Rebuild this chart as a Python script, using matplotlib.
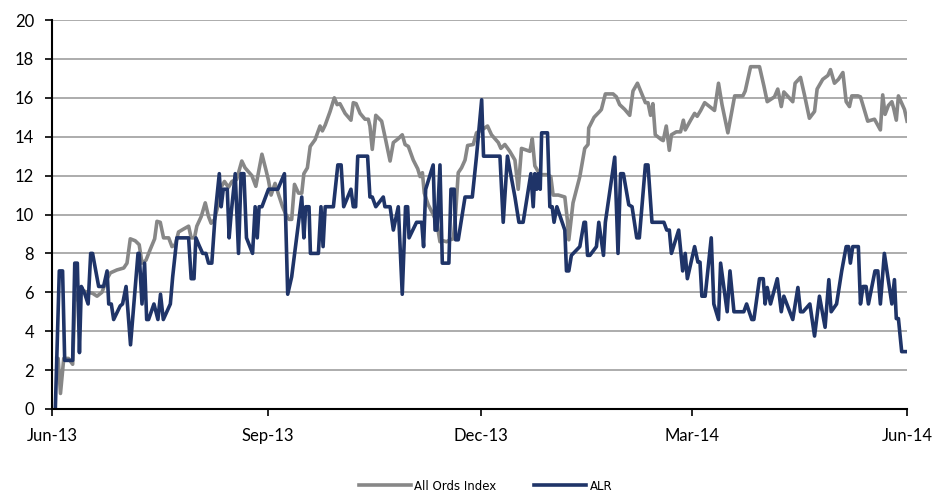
import numpy as np
import pandas as pd
import matplotlib
matplotlib.use('Agg')
import matplotlib.pyplot as plt
import matplotlib.dates as mdates

# days since 1-Jun-2013
alr_day = [1.4, 3.1, 4.5, 5.4, 7.1, 8.8, 9.7, 10.8, 11.7, 12.5,
           13.9, 15.4, 16.5, 17.3, 19.9, 22.0, 23.5, 24.2, 25.3, 26.3,
           29.1, 30.1, 31.6, 33.5, 36.7, 37.2, 38.4, 39.5, 40.4, 41.2,
           43.5, 45.2, 46.3, 47.5, 50.5, 51.5, 53.3, 58.3, 59.4, 60.6,
           61.4, 62.8, 64.3, 65.7, 66.8, 68.2, 69.7, 71.4, 72.2, 73.1,
           74.8, 75.6, 76.5, 78.2, 79.6, 80.7, 81.9, 83.0, 85.6, 86.7,
           87.6, 88.4, 89.6, 92.4, 96.4, 99.2, 100.6, 102.3, 106.6, 107.5,
           108.3, 109.7, 110.3, 113.7,
           114.8, 115.7, 116.6, 120.1, 122.0, 123.4, 124.5, 127.6, 128.6, 129.6,
           130.5, 134.7, 135.7, 136.7, 138.2, 141.4, 142.1, 144.3, 145.7, 147.8,
           149.5, 150.9, 151.8, 152.4, 155.6, 157.8, 158.6, 159.5, 162.7, 163.5,
           164.3, 165.6, 166.6, 169.4, 170.3, 171.7, 172.3, 173.4, 176.3, 179.4,
           181.2, 183.4, 184.2, 191.2, 192.6, 194.4, 197.6, 199.3, 201.1, 204.4,
           205.4, 206.1, 206.9, 207.5, 208.4, 209.0, 211.5, 212.5, 213.5, 214.3,
           215.5, 218.9, 219.6, 220.6, 221.7, 225.3, 227.1, 227.7, 228.6, 229.6,
           232.4, 233.4, 235.4,
           236.2, 240.2, 241.6, 242.7, 243.9, 246.2, 247.6, 249.6, 250.7, 253.3,
           254.4, 256.1, 261.2, 262.4, 263.5, 264.4, 267.5, 269.2, 270.3, 271.2,
           274.3, 275.7, 276.6, 277.4, 278.8, 281.4, 282.5, 284.5, 285.4, 288.2,
           289.4, 291.1, 295.3, 296.5, 298.7, 299.6, 302.0, 303.6, 304.4, 305.3,
           306.7, 309.6, 311.3, 312.4, 316.2, 318.4, 319.5, 320.6, 323.5, 325.5,
           327.6, 330.0, 331.6, 332.6, 334.9, 337.1, 339.0, 340.0, 340.8, 341.8,
           344.2, 345.1, 346.2, 347.5, 348.5, 351.3, 352.5, 353.6, 355.3, 358.5,
           359.6, 360.4, 361.3, 362.7, 365.0]
alr_val = [0, 7.1, 7.1, 2.5, 2.5, 2.5, 7.5, 7.5, 2.9, 6.3,
           5.95, 5.4, 8.0, 8.0, 6.3, 6.3, 7.1, 5.4, 5.4, 4.6,
           5.3, 5.4, 6.3, 3.3, 8.0, 8.0, 5.4, 7.5, 4.6, 4.6,
           5.4, 4.6, 5.9, 4.6, 5.4, 6.8, 8.8, 8.8, 6.7, 6.7,
           8.8, 8.4, 8.0, 8.0, 7.5, 7.5, 10.1, 12.1, 10.4, 11.3,
           11.3, 8.8, 10.1, 12.1, 8.0, 12.1, 12.1, 8.8, 8.0, 10.4,
           8.8, 10.4, 10.4, 11.3, 11.3, 12.1, 5.9, 6.8, 10.9, 8.8,
           10.4, 10.4, 8.0, 8.0,
           10.4, 8.35, 10.4, 10.4, 12.55, 12.55, 10.4, 11.3, 10.4, 10.4,
           13.0, 13.0, 10.9, 10.9, 10.4, 10.9, 10.4, 10.4, 9.2, 10.4,
           5.9, 10.4, 10.4, 8.8, 9.6, 9.6, 8.35, 11.3, 12.55, 9.2,
           9.2, 12.55, 7.5, 7.5, 11.3, 11.3, 8.7, 8.7, 10.9, 10.9,
           13.0, 15.9, 13.0, 13.0, 9.6, 13.0, 10.9, 9.6, 9.6, 12.1,
           10.4, 12.1, 11.3, 12.1, 11.3, 14.2, 14.2, 10.4, 10.4, 9.6,
           10.4, 9.2, 7.1, 7.1, 7.9, 8.35, 9.6, 9.6, 7.9, 7.9,
           8.35, 9.6, 7.9,
           9.6, 12.95, 8.0, 12.1, 12.1, 10.5, 10.4, 8.8, 8.8, 12.55,
           12.55, 9.6, 9.6, 9.2, 9.2, 8.0, 9.2, 7.1, 8.0, 6.7,
           8.35, 7.55, 7.55, 5.8, 5.8, 8.8, 5.4, 4.6, 7.5, 5.0,
           7.1, 5.0, 5.0, 5.4, 4.6, 4.6, 6.7, 6.7, 5.4, 6.25,
           5.4, 6.7, 5.0, 5.8, 4.6, 6.25, 5.0, 5.0, 5.4, 3.75,
           5.8, 4.2, 6.65, 5.0, 5.4, 7.1, 8.35, 8.35, 7.5, 8.35,
           8.35, 5.4, 6.3, 6.3, 5.4, 7.1, 7.1, 5.4, 8.0, 5.4,
           6.65, 4.65, 4.65, 2.95, 2.95]

ords_day = [2.0, 2.6, 3.6, 5.0, 7.0, 8.8, 9.7, 11.0, 13.0, 15.0,
            17.3, 19.2, 21.3, 23.5, 24.9, 27.7, 30.6, 32.0, 33.4, 35.5,
            37.2, 38.4, 40.1, 41.9, 43.8, 44.8, 46.2, 47.6, 49.8, 51.2,
            52.6, 54.0, 56.1, 58.3, 59.4, 60.8, 61.8, 63.7, 65.4, 66.8,
            67.9, 69.4, 70.8, 71.9, 73.6, 75.3, 76.8, 78.8, 81.0, 82.4,
            85.3, 87.0, 89.6, 91.3, 92.4, 93.5, 95.2, 96.9, 98.4, 99.8,
            101.2, 102.3, 103.5, 105.2, 106.6, 107.5, 109.0,
            110.2, 112.3, 114.4, 115.4, 116.6, 118.7, 120.5, 121.7, 122.9, 125.1,
            127.6, 128.6, 129.8, 131.5, 133.6, 135.0, 135.7, 136.7, 138.2, 140.7,
            142.4, 144.3, 145.7, 147.8, 149.5, 150.7, 152.1, 154.2, 156.1, 157.1,
            158.1, 158.9, 160.6, 162.3, 164.2, 165.6, 167.0, 168.4, 169.9, 171.3,
            172.3, 173.4, 174.8, 176.3, 177.4, 179.8, 181.2, 184.1, 185.9, 187.6,
            190.5, 191.6, 193.3, 195.4, 197.6, 199.0, 200.4, 204.0, 205.0, 206.1,
            207.8, 209.0, 211.1, 212.9, 213.9, 216.1, 218.9, 220.0, 220.6, 222.4,
            225.3, 227.4, 228.8, 229.1, 231.4, 233.8,
            234.5, 236.2, 239.5, 240.9, 242.3, 244.5, 246.6, 248.0, 249.9, 251.6,
            253.3, 254.4, 255.5, 256.5, 257.5, 260.1, 260.9, 262.2, 263.5, 264.4,
            266.5, 268.3, 269.5, 270.3, 272.6, 274.3, 275.4, 276.9, 278.6, 280.7,
            282.8, 284.5, 286.0, 288.5, 291.4, 294.9, 295.9, 298.2, 302.0, 303.9,
            305.3, 308.4, 309.8, 311.3, 312.4, 316.2, 317.2, 319.5, 321.2, 323.3,
            325.5, 326.6, 329.0, 331.2, 332.3, 334.0, 335.7, 337.6, 339.0, 340.4,
            341.4, 344.0, 345.1, 348.2, 351.1, 353.6, 354.6, 355.6, 357.0, 358.5,
            359.3, 360.4, 361.3, 363.9, 365.0]
ords_val = [2.6, 2.6, 0.8, 2.6, 2.6, 2.3, 5.5, 6.0, 6.1, 6.0,
            5.95, 5.8, 6.0, 6.7, 7.0, 7.15, 7.25, 7.5, 8.75, 8.65,
            8.45, 7.5, 7.65, 8.2, 8.75, 9.65, 9.6, 8.8, 8.8, 8.35,
            8.45, 9.1, 9.25, 9.4, 8.8, 8.8, 9.4, 9.9, 10.6, 9.9,
            9.55, 9.75, 10.45, 11.35, 11.7, 11.4, 11.7, 11.8, 12.75, 12.4,
            12.0, 11.45, 13.1, 12.3, 11.75, 11.0, 11.6, 10.95, 10.4, 10.0,
            9.75, 9.75, 11.55, 11.1, 11.1, 12.1, 12.4,
            13.5, 13.85, 14.55, 14.3, 14.6, 15.3, 16.0, 15.65, 15.7, 15.2,
            14.85, 15.75, 15.7, 15.2, 14.9, 14.9, 14.55, 13.35, 15.1, 14.8,
            13.85, 12.75, 13.7, 13.9, 14.1, 13.6, 13.5, 12.8, 12.35, 11.95,
            12.15, 11.1, 10.5, 10.1, 9.6, 8.6, 8.65, 8.6, 8.7, 8.75,
            10.1, 12.15, 12.4, 12.8, 13.55, 13.6, 14.2, 14.4, 14.55, 14.1,
            13.7, 13.4, 13.6, 13.25, 12.8, 11.3, 13.4, 13.25, 13.9, 12.5,
            12.15, 12.05, 12.05, 11.95, 11.0, 11.0, 10.9, 9.7, 8.7, 10.6,
            11.95, 13.4, 13.6, 14.45, 15.0, 15.3,
            15.4, 16.2, 16.2, 16.05, 15.65, 15.4, 15.1, 16.35, 16.75, 16.25,
            15.75, 15.75, 15.1, 15.7, 14.1, 13.85, 13.8, 14.55, 13.3, 14.1,
            14.25, 14.25, 14.85, 14.35, 14.85, 15.2, 15.05, 15.35, 15.75, 15.55,
            15.35, 16.75, 15.65, 14.2, 16.1, 16.1, 16.35, 17.6, 17.6, 16.6,
            15.8, 16.05, 16.45, 15.55, 16.3, 15.8, 16.75, 17.05, 16.15, 14.95,
            15.3, 16.45, 16.95, 17.15, 17.45, 16.75, 16.95, 17.3, 15.8, 15.55,
            16.1, 16.1, 16.05, 14.8, 14.9, 14.35, 16.15, 15.15, 15.6, 15.8,
            15.45, 14.85, 16.1, 15.4, 14.8]

x_ticks = ['2013-06-01', '2013-09-01', '2013-12-01', '2014-03-01', '2014-06-01']
y_ticks = np.arange(0, 21, 2)

start = pd.Timestamp('2013-06-01')
alr_dates = start + pd.to_timedelta(alr_day, unit='D')
ords_dates = start + pd.to_timedelta(ords_day, unit='D')

plt.rcParams['font.family'] = ['Lato', 'DejaVu Sans']

fig = plt.figure(figsize=(9.36, 4.92), dpi=100)
ax = fig.add_axes([0.0556, 0.1687, 0.9135, 0.7906])

ax.plot(ords_dates, ords_val, color='#878787', lw=2.6, label='All Ords Index')
ax.plot(alr_dates, alr_val, color='#1F3468', lw=2.6, label='ALR')

ax.set_ylim(0, 20)
ax.set_yticks(y_ticks)
ax.set_xlim(start, pd.Timestamp('2014-06-01'))
ax.set_xticks(pd.to_datetime(x_ticks))
ax.xaxis.set_major_formatter(mdates.DateFormatter('%b-%y'))

ax.yaxis.grid(True, color='#A6A6A6', lw=1.3)
ax.set_axisbelow(True)
for s in ['top', 'right']:
    ax.spines[s].set_visible(False)
for s in ['left', 'bottom']:
    ax.spines[s].set_linewidth(1.5)
    ax.spines[s].set_color('black')
ax.tick_params(axis='both', labelsize=12, width=1.2, length=5, colors='black')
ax.tick_params(axis='x', pad=9)
ax.tick_params(axis='y', pad=8)

fig.legend(loc='center', bbox_to_anchor=(0.519, 0.012), ncol=2, frameon=False,
           prop={'family': ['Liberation Sans Narrow', 'DejaVu Sans'], 'size': 8.5},
           handlelength=4.4, handletextpad=0.3, columnspacing=3.2)

fig.savefig('out.png', dpi=100)
